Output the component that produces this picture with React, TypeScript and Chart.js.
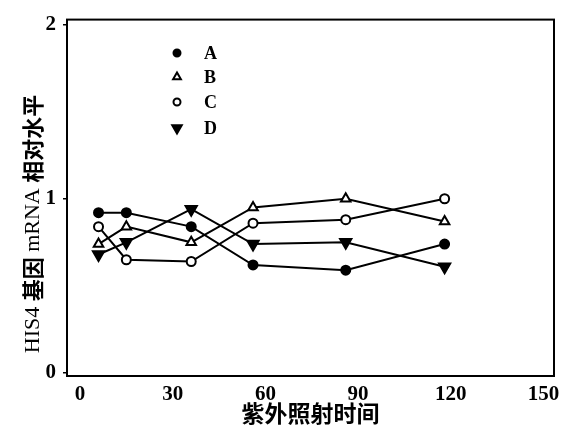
import React, { useEffect, useRef } from "react";
import { Chart, registerables } from "chart.js";
import { drawPoint } from "chart.js/helpers";

Chart.register(...registerables);

const xValues = [6, 15, 36, 56, 86, 118];
const seriesA = [0.92, 0.92, 0.84, 0.62, 0.59, 0.74];
const seriesB = [0.74, 0.84, 0.75, 0.95, 1.0, 0.87];
const seriesC = [0.84, 0.65, 0.64, 0.86, 0.88, 1.0];
const seriesD = [0.68, 0.75, 0.94, 0.74, 0.75, 0.61];
const seriesLabels = ["A", "B", "C", "D"];
const xTicks = [0, 30, 60, 90, 120, 150];
const yTicks = [0, 1, 2];
const xTitle = "紫外照射时间";
const yTitleParts = ["HIS4 ", "基因", " mRNA ", "相对水平"];

const serif = '"Liberation Serif", "DejaVu Serif", serif';
const cjk = '"Noto Sans CJK SC", sans-serif';

const legendPlugin = {
  id: "innerLegend",
  afterDraw(chart: any) {
    const ctx = chart.ctx;
    const ds = chart.data.datasets;
    const mx = 177;
    const tx = 204;
    const ys = [53, 77, 102, 128];
    ctx.save();
    ds.forEach((d: any, i: number) => {
      ctx.lineWidth = d.pointBorderWidth;
      ctx.strokeStyle = d.pointBorderColor;
      ctx.fillStyle = d.pointBackgroundColor;
      drawPoint(
        ctx,
        {
          pointStyle: d.pointStyle,
          rotation: d.pointRotation || 0,
          radius: Math.max(3.5, d.pointRadius - 1),
          borderWidth: d.pointBorderWidth,
        },
        mx,
        ys[i]
      );
      ctx.fillStyle = "#000";
      ctx.font = `bold 18px ${serif}`;
      ctx.textBaseline = "middle";
      ctx.textAlign = "left";
      ctx.fillText(d.label, tx, ys[i] + 1);
    });
    ctx.restore();
  },
};

const yTitlePlugin = {
  id: "yTitle",
  afterDraw(chart: any) {
    const ctx = chart.ctx;
    const fonts = yTitleParts.map((p, i) =>
      i % 2 === 0 ? `22px ${serif}` : `bold 22px ${cjk}`
    );
    ctx.save();
    let total = 0;
    const widths = yTitleParts.map((p, i) => {
      ctx.font = fonts[i];
      const w = ctx.measureText(p).width;
      total += w;
      return w;
    });
    ctx.translate(33, 224);
    ctx.rotate(-Math.PI / 2);
    ctx.fillStyle = "#000";
    ctx.textBaseline = "middle";
    ctx.textAlign = "left";
    let x = -total / 2;
    yTitleParts.forEach((p, i) => {
      ctx.font = fonts[i];
      ctx.fillText(p, x, 0);
      x += widths[i];
    });
    ctx.restore();
  },
};

const boxPlugin = {
  id: "box",
  afterDraw(chart: any) {
    const { ctx, chartArea } = chart;
    ctx.save();
    ctx.strokeStyle = "#000";
    ctx.lineWidth = 2;
    ctx.strokeRect(
      chartArea.left,
      chartArea.top,
      chartArea.right - chartArea.left,
      chartArea.bottom - chartArea.top
    );
    ctx.restore();
  },
};

function makeSet(label: string, values: number[], style: string, fill: string, radius: number, rotation = 0) {
  return {
    label,
    data: xValues.map((x, i) => ({ x, y: values[i] })),
    borderColor: "#000",
    borderWidth: 2,
    pointStyle: style,
    pointRotation: rotation,
    pointRadius: radius,
    pointBorderWidth: 2,
    pointBorderColor: "#000",
    pointBackgroundColor: fill,
    fill: false,
    tension: 0,
  };
}

export default function App() {
  const ref = useRef<HTMLCanvasElement>(null);
  useEffect(() => {
    if (!ref.current) return;
    const chart = new Chart(ref.current, {
      type: "line",
      data: {
        datasets: [
          makeSet(seriesLabels[0], seriesA, "circle", "#000", 4.5),
          makeSet(seriesLabels[1], seriesB, "triangle", "#fff", 5.5),
          makeSet(seriesLabels[2], seriesC, "circle", "#fff", 4.5),
          makeSet(seriesLabels[3], seriesD, "triangle", "#000", 6.5, 180),
        ],
      },
      options: {
        animation: false,
        responsive: true,
        maintainAspectRatio: false,
        layout: { padding: { top: 10, right: 13, left: 0, bottom: 0 } },
        plugins: { legend: { display: false }, tooltip: { enabled: false } },
        scales: {
          x: {
            type: "linear",
            min: -4.2,
            max: 153.4,
            afterBuildTicks: (s: any) => {
              s.ticks = xTicks.map((v) => ({ value: v }));
            },
            afterFit: (s: any) => {
              s.height = 57;
            },
            grid: { display: false, drawTicks: false },
            border: { display: true, color: "#000", width: 2 },
            ticks: {
              color: "#000",
              padding: 6,
              maxRotation: 0,
              autoSkip: false,
              font: { family: serif, size: 21, weight: "bold" },
            },
            title: {
              display: true,
              text: xTitle,
              color: "#000",
              padding: { top: 0, bottom: 6 },
              font: { family: cjk, size: 23, weight: "bold" },
            },
          },
          y: {
            type: "linear",
            min: -0.017,
            max: 2.028,
            afterBuildTicks: (s: any) => {
              s.ticks = yTicks.map((v) => ({ value: v }));
            },
            afterFit: (s: any) => {
              s.width = 67;
            },
            grid: {
              display: true,
              drawOnChartArea: false,
              drawTicks: true,
              tickLength: 4,
              color: "#000",
              lineWidth: 1.5,
            },
            border: { display: true, color: "#000", width: 2 },
            ticks: {
              color: "#000",
              padding: 7,
              font: { family: serif, size: 21, weight: "bold" },
            },
            title: { display: false },
          },
        },
      },
      plugins: [legendPlugin, yTitlePlugin, boxPlugin],
    });
    return () => chart.destroy();
  }, []);
  return (
    <div style={{ position: "fixed", left: 0, top: 0, width: 567, height: 433, background: "#fff" }}>
      <canvas ref={ref} />
    </div>
  );
}
